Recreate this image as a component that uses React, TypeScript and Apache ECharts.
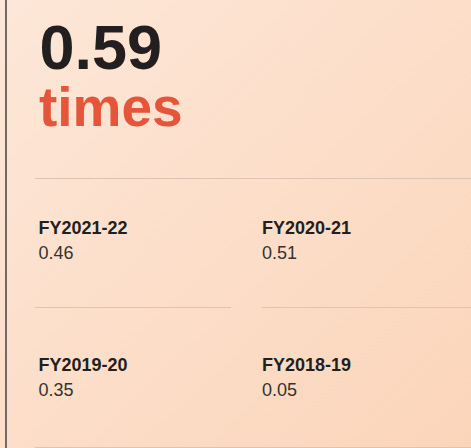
import React, { useEffect, useRef } from "react";
import * as echarts from "echarts";

const headlineValue = 0.59;
const headlineUnit = "times";
const periods = ["FY2021-22", "FY2020-21", "FY2019-20", "FY2018-19"];
const periodValues = [0.46, 0.51, 0.35, 0.05];

const W = 471;
const H = 448;

export default function App() {
  const ref = useRef<HTMLDivElement>(null);
  useEffect(() => {
    if (!ref.current) return;
    const chart = echarts.init(ref.current, null, { renderer: "svg" });
    const font = "'Liberation Sans', Arial, Helvetica, sans-serif";
    const lineColor = "#dcc3b4";
    const graphics: any[] = [];
    // left border
    graphics.push({
      type: "line",
      shape: { x1: 6, y1: 0, x2: 6, y2: H },
      style: { stroke: "#6f6a68", lineWidth: 2 },
      silent: true,
    });
    graphics.push({
      type: "text",
      x: 39.5,
      y: 47,
      style: {
        text: headlineValue.toFixed(2),
        fill: "#231f20",
        font: `bold 63px ${font}`,
        verticalAlign: "middle",
        align: "left",
      },
    });
    graphics.push({
      type: "text",
      x: 39,
      y: 106.5,
      style: {
        text: headlineUnit,
        fill: "#e4553a",
        font: `bold 55px ${font}`,
        verticalAlign: "middle",
        align: "left",
      },
    });
    // horizontal rules
    const rules = [
      [35, 178.5, W, 178.5],
      [35, 307.5, 231, 307.5],
      [262, 307.5, W, 307.5],
      [35, 447.5, W, 447.5],
    ];
    rules.forEach(([x1, y1, x2, y2]) =>
      graphics.push({
        type: "line",
        shape: { x1, y1, x2, y2 },
        style: { stroke: lineColor, lineWidth: 1 },
        silent: true,
      })
    );
    const colX = [38.5, 262];
    const rowLabelY = [227.7, 365.4];
    const rowValueY = [252.7, 389.7];
    periods.forEach((p, i) => {
      const c = i % 2;
      const r = Math.floor(i / 2);
      graphics.push({
        type: "text",
        x: colX[c],
        y: rowLabelY[r],
        style: {
          text: p,
          fill: "#231f20",
          font: `bold 18px ${font}`,
          verticalAlign: "middle",
          align: "left",
        },
      });
      graphics.push({
        type: "text",
        x: colX[c],
        y: rowValueY[r],
        style: {
          text: periodValues[i].toFixed(2),
          fill: "#333333",
          font: `18px ${font}`,
          verticalAlign: "middle",
          align: "left",
        },
      });
    });
    chart.setOption({
      animation: false,
      backgroundColor: {
        type: "linear",
        x: 0,
        y: 0,
        x2: 1,
        y2: 1,
        colorStops: [
          { offset: 0, color: "#fde7d8" },
          { offset: 1, color: "#fbd5ba" },
        ],
      },
      graphic: graphics,
    });
    return () => chart.dispose();
  }, []);
  return (
    <div
      ref={ref}
      style={{ position: "absolute", left: 0, top: 0, width: W, height: H }}
    />
  );
}
